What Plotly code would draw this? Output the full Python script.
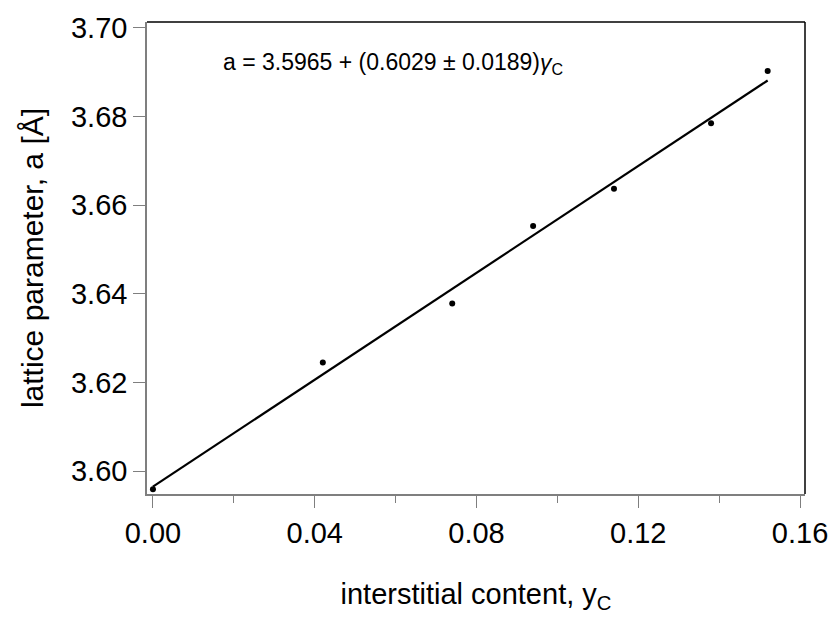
import plotly.graph_objects as go

# data
y_c = [0.000, 0.042, 0.074, 0.094, 0.114, 0.138, 0.152]
lattice_a = [3.5959, 3.6245, 3.6378, 3.6553, 3.6637, 3.6785, 3.6903]

# linear fit given in the annotation
intercept = 3.5965
slope = 0.6029
fit_x = [0.0, 0.152]
fit_y = [intercept + slope * v for v in fit_x]

x_ticks = [0.00, 0.04, 0.08, 0.12, 0.16]
x_tick_labels = ["0.00", "0.04", "0.08", "0.12", "0.16"]
y_ticks = [3.60, 3.62, 3.64, 3.66, 3.68, 3.70]
y_tick_labels = ["3.60", "3.62", "3.64", "3.66", "3.68", "3.70"]

FONT = "Liberation Sans, Arial, sans-serif"
AXIS_GRAY = "#7f7f7f"

fig = go.Figure()
fig.add_trace(go.Scatter(x=fit_x, y=fit_y, mode="lines",
                         line=dict(color="black", width=2.2), showlegend=False))
fig.add_trace(go.Scatter(x=y_c, y=lattice_a, mode="markers",
                         marker=dict(color="black", size=6), showlegend=False))

fig.add_annotation(x=0.113, y=0.913, xref="paper", yref="paper",
                   xanchor="left", yanchor="middle", showarrow=False,
                   text="a = 3.5965 + (0.6029 ± 0.0189)<i>γ</i><sub>C</sub>",
                   font=dict(family=FONT, size=23, color="black"))

# top and right frame lines (black)
fig.add_shape(type="line", xref="paper", yref="paper", x0=0, x1=1, y0=1, y1=1,
              line=dict(color="black", width=1.5))
fig.add_shape(type="line", xref="paper", yref="paper", x0=1, x1=1, y0=0, y1=1,
              line=dict(color="black", width=1.5))

fig.update_xaxes(range=[-0.00147, 0.16123], tickvals=x_ticks, ticktext=x_tick_labels,
                 showgrid=False, zeroline=False, showline=True, linecolor=AXIS_GRAY,
                 linewidth=1.5, ticks="outside", ticklen=12, tickwidth=1, tickcolor=AXIS_GRAY,
                 tickfont=dict(family=FONT, size=29, color="black"),
                 minor=dict(tickvals=[0.02, 0.06, 0.10, 0.14], ticks="outside", ticklen=7,
                            tickcolor=AXIS_GRAY, tickwidth=1),
                 title=dict(text="interstitial content, y<sub>C</sub>", standoff=36,
                            font=dict(family=FONT, size=29, color="black")))
fig.update_yaxes(range=[3.59484, 3.70133], tickvals=y_ticks, ticktext=y_tick_labels,
                 showgrid=False, zeroline=False, showline=True, linecolor=AXIS_GRAY,
                 linewidth=1.5, ticks="outside", ticklen=12, tickwidth=1, tickcolor=AXIS_GRAY,
                 tickfont=dict(family=FONT, size=29, color="black"),
                 title=dict(text="lattice parameter, a [Å]", standoff=18,
                            font=dict(family=FONT, size=30, color="black")))

fig.update_layout(width=840, height=617, plot_bgcolor="white", paper_bgcolor="white",
                  margin=dict(l=147, r=30, t=16, b=120), showlegend=False)

fig.write_html("out.html")
